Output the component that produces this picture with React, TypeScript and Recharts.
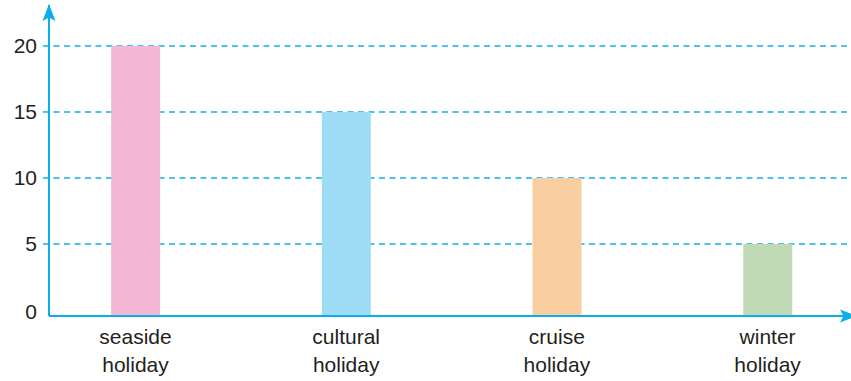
import React from 'react';
import { BarChart, Bar, XAxis, YAxis, CartesianGrid, Cell } from 'recharts';

const categories = ['seaside holiday', 'cultural holiday', 'cruise holiday', 'winter holiday'];
const values = [20, 15, 10, 5];
const yTicks = [0, 5, 10, 15, 20];
const gridValues = [5, 10, 15, 20];
const barColors = ['#f4b7d5', '#9fdcf6', '#f9cfa2', '#c1dab6'];

const AXIS = '#0aaeea';
const GRID = '#14aeea';
const TEXT = '#231f20';
const FONT = '"Liberation Sans", Arial, Helvetica, sans-serif';

const W = 851;
const H = 381;
const Y_MIN = -0.4545;
const Y_MAX = 23.1;
const X_MIN = -0.4106;
const X_MAX = 3.396;

const data = categories.map((c, i) => ({ idx: i, name: c, value: values[i] }));

const XTick = (props: any) => {
  const { x, y, payload } = props;
  const label = categories[payload.value] || '';
  const parts = label.split(' ');
  return (
    <text x={x} y={y} textAnchor="middle" fill={TEXT} fontSize={21} fontFamily={FONT}>
      <tspan x={x} dy={28}>{parts[0]}</tspan>
      <tspan x={x} dy={28}>{parts[1]}</tspan>
    </text>
  );
};

const YTick = (props: any) => {
  const { x, y, payload } = props;
  return (
    <g>
      {payload.value !== 0 && (
        <line x1={x - 6} x2={x} y1={y} y2={y} stroke={GRID} strokeWidth={1.5} />
      )}
      <text x={x - 12} y={payload.value === 0 ? y + 2 : y} dy="0.355em" textAnchor="end" fill={TEXT} fontSize={21} fontFamily={FONT}>
        {payload.value}
      </text>
    </g>
  );
};

export default function App() {
  return (
    <div style={{ position: 'absolute', left: 0, top: 0, width: W, height: H, background: '#fff' }}>
      <BarChart width={W} height={H} data={data} margin={{ top: 5, right: 0, bottom: 0, left: 0 }}>
        <CartesianGrid
          horizontal
          vertical={false}
          horizontalValues={gridValues}
          stroke={GRID}
          strokeWidth={1.5}
          strokeDasharray="6 4.5"
          strokeDashoffset={6}
        />
        <XAxis
          type="number"
          dataKey="idx"
          domain={[X_MIN, X_MAX]}
          allowDataOverflow
          ticks={[0, 1, 2, 3]}
          interval={0}
          height={65}
          tickLine={false}
          tickSize={0}
          tickMargin={0}
          axisLine={{ stroke: AXIS, strokeWidth: 2 }}
          tick={<XTick />}
        />
        <YAxis
          type="number"
          domain={[Y_MIN, Y_MAX]}
          allowDataOverflow
          ticks={yTicks}
          interval={0}
          width={49}
          tickLine={false}
          tickSize={0}
          tickMargin={0}
          axisLine={{ stroke: AXIS, strokeWidth: 2 }}
          tick={<YTick />}
        />
        <Bar dataKey={(d: any) => [Y_MIN, d.value]} barSize={49} isAnimationActive={false}>
          {data.map((d, i) => (
            <Cell key={d.name} fill={barColors[i]} />
          ))}
        </Bar>
      </BarChart>
      <svg width={W} height={H} style={{ position: 'absolute', left: 0, top: 0, pointerEvents: 'none' }}>
        <path d="M49 4 L55.5 21 L49 17.5 L42.5 21 Z" fill={AXIS} />
        <path d="M857 316 L840 309.5 L843.5 316 L840 322.5 Z" fill={AXIS} />
      </svg>
    </div>
  );
}
